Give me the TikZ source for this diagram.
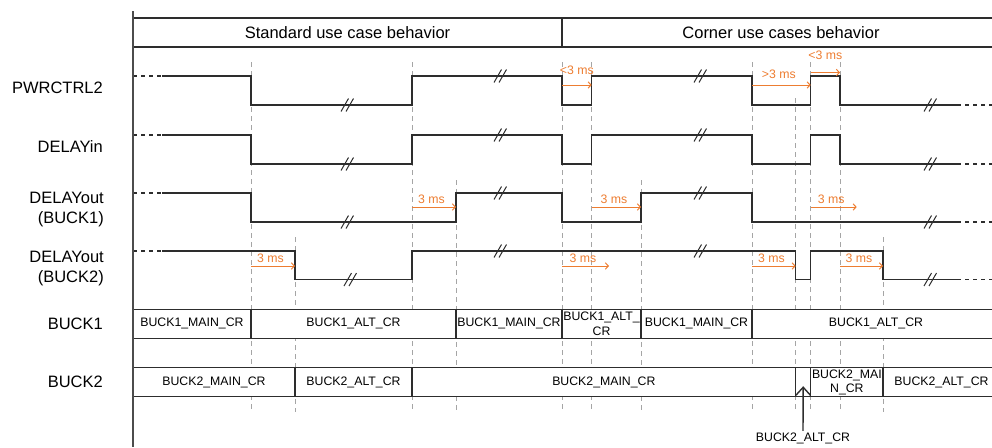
\documentclass[tikz,border=0pt]{standalone}
\usepackage{fontspec}
\setmainfont{Liberation Sans}
\usetikzlibrary{arrows.meta}

\definecolor{dlyorange}{RGB}{237,125,49}
\definecolor{sigdark}{RGB}{45,45,45}
\definecolor{guidegray}{RGB}{165,165,165}

\begin{document}
\begin{tikzpicture}[
    x=1pt, y=-1pt, % pixel-like coordinates, y grows downwards
    sig/.style={draw=sigdark, line width=1.4pt},
    lead/.style={draw=sigdark, line width=1.4pt, dash pattern=on 4pt off 4pt},
    guide/.style={draw=guidegray, line width=0.9pt, dash pattern=on 5pt off 4pt},
    brk/.style={draw=sigdark, line width=1pt},
    cell/.style={draw=sigdark, line width=1.2pt, fill=white, inner sep=0pt, minimum height=29pt, align=center, font=\fontsize{12.3}{14.5}\selectfont},
    hdr/.style={cell, font=\fontsize{16.5}{20}\selectfont},
    siglbl/.style={anchor=east, align=right, inner sep=0pt, font=\fontsize{16.5}{20.5}\selectfont},
    dly/.style={draw=dlyorange, line width=1pt, -{Straight Barb[length=3pt,width=6.5pt]}},
    dlylbl/.style={text=dlyorange, inner sep=0pt, xshift=-2.5pt, font=\fontsize{12.3}{14}\selectfont},
    ptr/.style={draw=sigdark, line width=1.4pt, -{Straight Barb[length=8pt,width=14.5pt]}}
  ]

  \useasboundingbox (0,0) rectangle (992,447);
  \clip (0,0) rectangle (992,447);

  % Guide lines at the transitions
  \foreach \gx/\gy in {251/62, 295/237, 412/62, 456/180, 562/62, 591.7/62, 641/180,
                       752/62, 795.7/98, 810.7/62, 840/62, 883/237}
    \draw[guide] (\gx,\gy) -- (\gx,412);

  % Header
  \node[hdr, minimum width=429pt] (std) at (347.5,32.5) {Standard use case behavior};
  \node[hdr, minimum width=438pt] (corner) at (781,32.5) {Corner use cases behavior};

  % Signal names
  \node[siglbl] (pwr) at (103,88) {PWRCTRL2};
  \node[siglbl] (din) at (103,147) {DELAYin};
  \node[siglbl] (dout1) at (104,209.5) {DELAYout\\(BUCK1)};
  \node[siglbl] (dout2) at (104,268.5) {DELAYout\\(BUCK2)};
  \node[siglbl] (buck1) at (103,324) {BUCK1};
  \node[siglbl] (buck2) at (103,381.5) {BUCK2};

  % Waveforms
  \draw[lead] (133,76) -- (162,76);
  \draw[sig] (162,76) -| (251,105) -| (412,76) -| (562,105) -| (591.7,76) -| (752,105) -| (810.7,76) -| (840,105) -- (957,105);
  \draw[lead] (957,105) -- (992,105);

  \draw[lead] (133,135) -- (162,135);
  \draw[sig] (162,135) -| (251,164) -| (412,135) -| (562,164) -| (591.7,135) -| (752,164) -| (810.7,135) -| (840,164) -- (957,164);
  \draw[lead] (957,164) -- (992,164);

  \draw[lead] (133,193) -- (162,193);
  \draw[sig] (162,193) -| (251,222) -| (456,193) -| (562,222) -| (641,193) -| (752,222) -- (957,222);
  \draw[lead] (957,222) -- (992,222);

  \draw[lead] (133,251) -- (162,251);
  \draw[sig] (162,251) -| (295,279.5) -| (412,251) -| (795.7,279.5) -| (810.7,251) -| (883,279.5) -- (957,279.5);
  \draw[lead] (957,279.5) -- (992,279.5);

  % Time breaks
  \foreach \bx/\by in {347/105, 500/76, 700/76, 930/105,
                       347/164, 500/135, 700/135, 930/164,
                       347/222, 500/193, 700/193, 930/222,
                       350/279.5, 500/251, 700/251, 930/279.5}
    \draw[brk] (\bx-6,\by+6.5) -- ++(7.5,-13) (\bx-1,\by+6.5) -- ++(7.5,-13);

  % Delays
  \draw[dly] (562,85) -- node[dlylbl, above=10pt, xshift=2.5pt] {<3 ms} (591.7,85);
  \draw[dly] (752,85) -- node[dlylbl, above=5.5pt] {>3 ms} (810.7,85);
  \draw[dly] (810.7,72.5) -- node[dlylbl, above=12pt, xshift=2.5pt] {<3 ms} (840,72.5);

  \draw[dly] (412,207) -- node[dlylbl, above=2.5pt] {3 ms} (456,207);
  \draw[dly] (591.7,207) -- node[dlylbl, above=2.5pt] {3 ms} (641,207);
  \draw[dly] (810.7,207) -- node[dlylbl, above=2.5pt] {3 ms} (856.7,207);

  \draw[dly] (251,266) -- node[dlylbl, above=2.5pt] {3 ms} (295,266);
  \draw[dly] (562,266) -- node[dlylbl, above=2.5pt] {3 ms} (609,266);
  \draw[dly] (752,266) -- node[dlylbl, above=2.5pt] {3 ms} (795.7,266);
  \draw[dly] (840,266) -- node[dlylbl, above=2.5pt] {3 ms} (883,266);

  % Regulator states
  \node[cell, minimum width=118pt] (b1a) at (192,323.8) {BUCK1\_MAIN\_CR};
  \node[cell, minimum width=205pt] (b1b) at (353.5,323.8) {BUCK1\_ALT\_CR};
  \node[cell, minimum width=106pt] (b1c) at (509,323.8) {BUCK1\_MAIN\_CR};
  \node[cell, minimum width=79pt] (b1d) at (601.5,323.8) {BUCK1\_ALT\_\\CR};
  \node[cell, minimum width=111pt] (b1e) at (696.5,323.8) {BUCK1\_MAIN\_CR};
  \node[cell, minimum width=248pt] (b1f) at (876,323.8) {BUCK1\_ALT\_CR};

  \node[cell, minimum width=162pt] (b2a) at (214,382.2) {BUCK2\_MAIN\_CR};
  \node[cell, minimum width=117pt] (b2b) at (353.5,382.2) {BUCK2\_ALT\_CR};
  \node[cell, minimum width=383.7pt] (b2c) at (603.85,382.2) {BUCK2\_MAIN\_CR};
  \node[cell, minimum width=15pt] (b2d) at (803.2,382.2) {};
  \node[cell, minimum width=72.3pt] (b2e) at (846.85,382.2) {BUCK2\_MAI\\N\_CR};
  \node[cell, minimum width=117pt] (b2f) at (941.5,382.2) {BUCK2\_ALT\_CR};

  % Short alternate state pointer
  \node[inner sep=1.5pt, font=\fontsize{12.3}{14}\selectfont] (altlbl) at (803,438) {BUCK2\_ALT\_CR};
  \draw[ptr] (altlbl.north) -- ([yshift=-4pt]b2d.center);

  % Time axis
  \draw[sig, draw=sigdark!85] (133,11) -- (133,447);

\end{tikzpicture}
\end{document}
